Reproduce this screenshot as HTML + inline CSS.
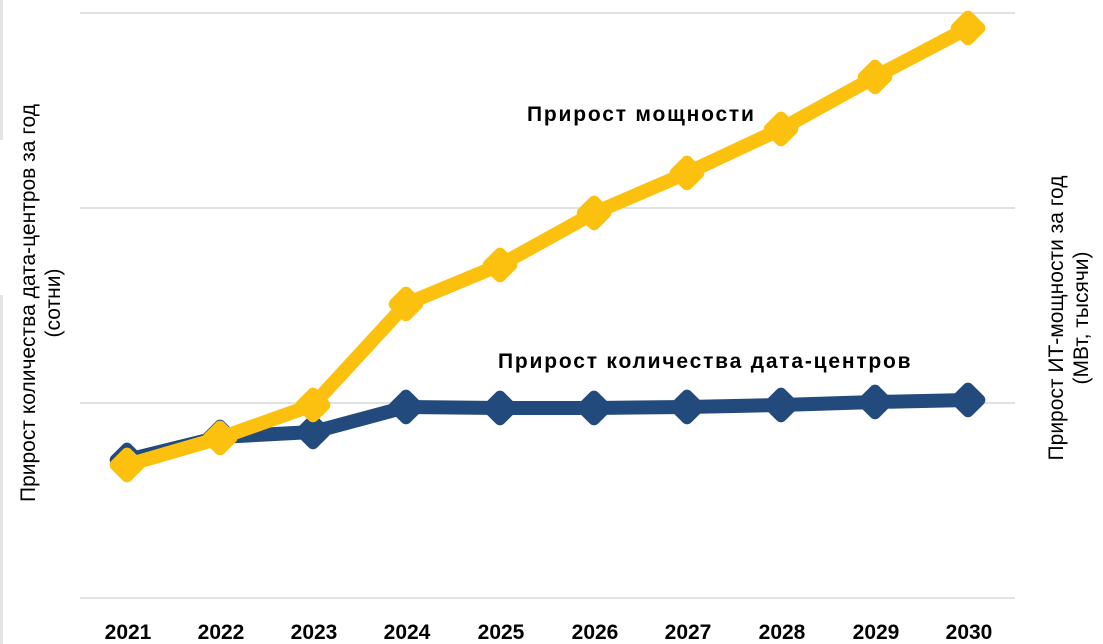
<!DOCTYPE html>
<html><head><meta charset="utf-8"><style>
html,body{margin:0;padding:0;background:#fff;}
svg{display:block;font-family:"Liberation Sans",Arial,sans-serif;}
</style></head><body>
<svg width="1103" height="644" viewBox="0 0 1103 644">
<rect x="0" y="0" width="1103" height="644" fill="#fff"/>
<rect x="0" y="0" width="3" height="140" fill="#e4e4e4"/>
<rect x="0" y="295" width="3" height="349" fill="#e4e4e4"/>
<g stroke="#d9d9d9" stroke-width="1.5">
<line x1="80" y1="13" x2="1015" y2="13"/>
<line x1="80" y1="208" x2="1015" y2="208"/>
<line x1="80" y1="403" x2="1015" y2="403"/>
<line x1="80" y1="598" x2="1015" y2="598"/>
</g>
<g font-size="21" fill="#000" text-anchor="middle">
<text transform="translate(35,303) rotate(-90)">Прирост количества дата-центров за год</text>
<text transform="translate(60,303) rotate(-90)">(сотни)</text>
<text transform="translate(1063,318) rotate(-90)">Прирост ИТ-мощности за год</text>
<text transform="translate(1088,318) rotate(-90)">(МВт, тысячи)</text>
</g>
<polyline fill="none" stroke="#234a7c" stroke-width="14" stroke-linejoin="round" points="127,460 220,437 313,432 406,407 500,408 594,408 687,407 781,405 875,402 968,400"/>
<g fill="#234a7c">
<rect x="113" y="446" width="28" height="28" rx="6" transform="rotate(45 127 460)"/>
<rect x="206" y="423" width="28" height="28" rx="6" transform="rotate(45 220 437)"/>
<rect x="299" y="418" width="28" height="28" rx="6" transform="rotate(45 313 432)"/>
<rect x="392" y="393" width="28" height="28" rx="6" transform="rotate(45 406 407)"/>
<rect x="486" y="394" width="28" height="28" rx="6" transform="rotate(45 500 408)"/>
<rect x="580" y="394" width="28" height="28" rx="6" transform="rotate(45 594 408)"/>
<rect x="673" y="393" width="28" height="28" rx="6" transform="rotate(45 687 407)"/>
<rect x="767" y="391" width="28" height="28" rx="6" transform="rotate(45 781 405)"/>
<rect x="861" y="388" width="28" height="28" rx="6" transform="rotate(45 875 402)"/>
<rect x="954" y="386" width="28" height="28" rx="6" transform="rotate(45 968 400)"/>
</g>
<polyline fill="none" stroke="#fcc10f" stroke-width="14" stroke-linejoin="round" points="127,465 220,438 313,405 406,304 500,265 594,213 687,173 781,129 875,77 968,28"/>
<g fill="#fcc10f">
<rect x="113" y="451" width="28" height="28" rx="6" transform="rotate(45 127 465)"/>
<rect x="206" y="424" width="28" height="28" rx="6" transform="rotate(45 220 438)"/>
<rect x="299" y="391" width="28" height="28" rx="6" transform="rotate(45 313 405)"/>
<rect x="392" y="290" width="28" height="28" rx="6" transform="rotate(45 406 304)"/>
<rect x="486" y="251" width="28" height="28" rx="6" transform="rotate(45 500 265)"/>
<rect x="580" y="199" width="28" height="28" rx="6" transform="rotate(45 594 213)"/>
<rect x="673" y="159" width="28" height="28" rx="6" transform="rotate(45 687 173)"/>
<rect x="767" y="115" width="28" height="28" rx="6" transform="rotate(45 781 129)"/>
<rect x="861" y="63" width="28" height="28" rx="6" transform="rotate(45 875 77)"/>
<rect x="954" y="14" width="28" height="28" rx="6" transform="rotate(45 968 28)"/>
</g>
<g font-size="21" font-weight="bold" fill="#000" letter-spacing="1.8">
<text x="527" y="121">Прирост мощности</text>
<text x="498" y="368">Прирост количества дата-центров</text>
</g>
<g font-size="21" font-weight="bold" fill="#000" text-anchor="middle">
<text x="128" y="639">2021</text><text x="221" y="639">2022</text><text x="314" y="639">2023</text>
<text x="407" y="639">2024</text><text x="501" y="639">2025</text><text x="595" y="639">2026</text>
<text x="688" y="639">2027</text><text x="782" y="639">2028</text><text x="876" y="639">2029</text>
<text x="969" y="639">2030</text>
</g>
</svg>
</body></html>
